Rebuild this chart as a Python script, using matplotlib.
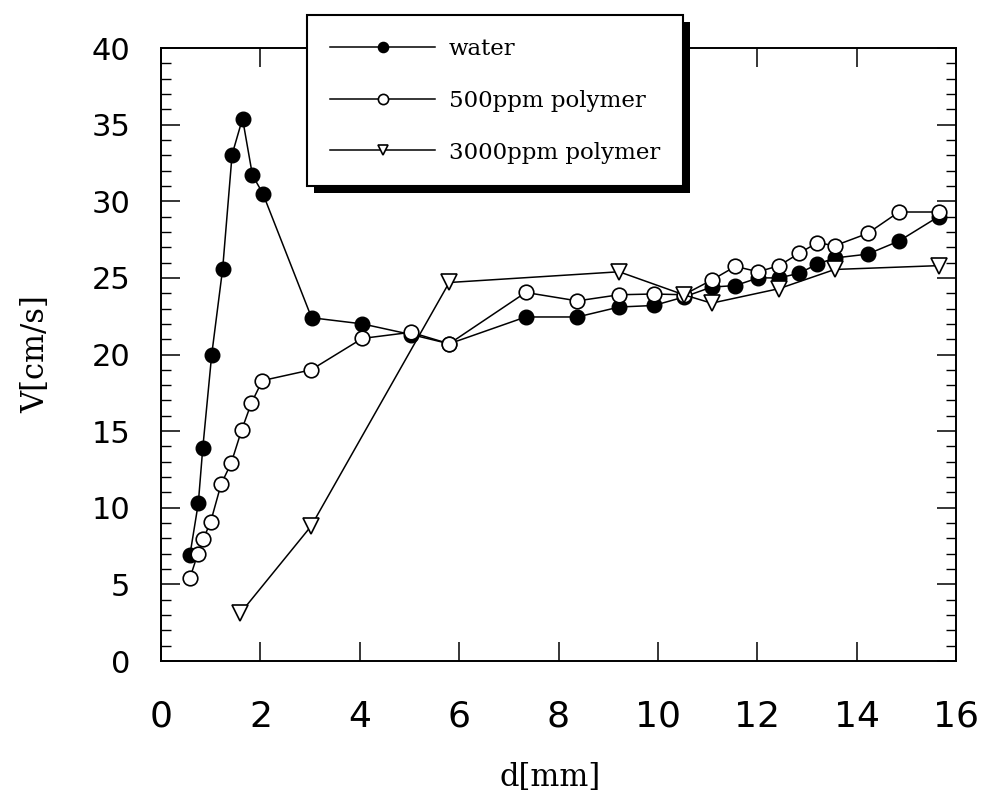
import matplotlib.pyplot as plt
from matplotlib.patches import Rectangle
from matplotlib.ticker import MultipleLocator

# d [mm] and V [cm/s]
d_water = [0.58, 0.75, 0.84, 1.02, 1.24, 1.43, 1.64, 1.84, 2.05, 3.03, 4.05, 5.04, 5.80,
           7.34, 8.38, 9.22, 9.92, 10.52, 11.08, 11.56, 12.02, 12.44, 12.84, 13.21,
           13.56, 14.22, 14.85, 15.65]
v_water = [6.9, 10.3, 13.9, 20.0, 25.6, 33.05, 35.4, 31.7, 30.5, 22.4, 22.0, 21.3, 20.7,
           22.45, 22.45, 23.1, 23.2, 23.75, 24.4, 24.5, 25.0, 25.0, 25.3, 25.9,
           26.3, 26.55, 27.4, 29.0]

d_500 = [0.58, 0.74, 0.85, 1.00, 1.21, 1.41, 1.62, 1.82, 2.04, 3.02, 4.05, 5.03, 5.80,
         7.34, 8.38, 9.22, 9.92, 10.52, 11.08, 11.56, 12.02, 12.44, 12.84, 13.21,
         13.56, 14.22, 14.85, 15.65]
v_500 = [5.4, 7.0, 7.95, 9.1, 11.55, 12.9, 15.05, 16.85, 18.3, 19.0, 21.05, 21.45, 20.7,
         24.05, 23.5, 23.9, 23.95, 23.9, 24.85, 25.75, 25.4, 25.8, 26.6, 27.3,
         27.1, 27.9, 29.3, 29.3]

d_3000 = [1.59, 3.02, 5.80, 9.22, 10.52, 11.08, 12.44, 13.56, 15.65]
v_3000 = [3.1, 8.8, 24.7, 25.4, 23.9, 23.35, 24.3, 25.55, 25.8]

serif = 'DejaVu Serif'

fig = plt.figure(figsize=(9.82, 7.94), dpi=100)
ax = fig.add_axes([0.164, 0.1675, 0.8095, 0.772])

ax.plot(d_water, v_water, color='black', lw=1.1, marker='o', ms=10.5,
        mfc='black', mec='black', label='water')
ax.plot(d_500, v_500, color='black', lw=1.1, marker='o', ms=10.5,
        mfc='white', mec='black', mew=1.2, label='500ppm polymer')
ax.plot(d_3000, v_3000, color='black', lw=1.1, marker='v', ms=11,
        mfc='white', mec='black', mew=1.2, label='3000ppm polymer')

ax.set_xlim(0, 16)
ax.set_ylim(0, 40)
ax.xaxis.set_major_locator(MultipleLocator(2))
ax.yaxis.set_major_locator(MultipleLocator(5))
ax.yaxis.set_minor_locator(MultipleLocator(1))

ax.tick_params(axis='both', which='both', direction='in', top=True, right=True,
               color='black')
ax.tick_params(axis='x', which='major', length=14, width=1.1, labelsize=26, pad=28)
ax.tick_params(axis='y', which='major', length=14, width=1.1, labelsize=22, pad=22)
ax.tick_params(axis='y', which='minor', length=7, width=1.0)
for s in ax.spines.values():
    s.set_linewidth(1.4)

ax.set_xlabel('d[mm]', family=serif, fontsize=22)
ax.set_ylabel('V[cm/s]', family=serif, fontsize=22)
ax.xaxis.set_label_coords(0.49, -0.165)
ax.yaxis.set_label_coords(-0.138, 0.5)

leg = fig.legend(loc='upper left', bbox_to_anchor=(307 / 982, 1 - 15 / 794),
                 borderaxespad=0, prop={'family': serif, 'size': 16.5}, frameon=True,
                 fancybox=False, edgecolor='black', framealpha=1, handlelength=4.6,
                 handletextpad=0.6, labelspacing=1.3, borderpad=1.0, markerscale=0.7)
leg.get_frame().set_linewidth(1.5)
leg.set_zorder(10)

# heavy black drop shadow behind the legend box
fig.canvas.draw()
bb = leg.get_window_extent().transformed(fig.transFigure.inverted())
shadow = Rectangle((bb.x0 + 7 / 982, bb.y0 - 7 / 794), bb.width, bb.height,
                   transform=fig.transFigure, facecolor='black', edgecolor='none',
                   zorder=9)
fig.patches.append(shadow)

fig.savefig('out.png', dpi=100)
